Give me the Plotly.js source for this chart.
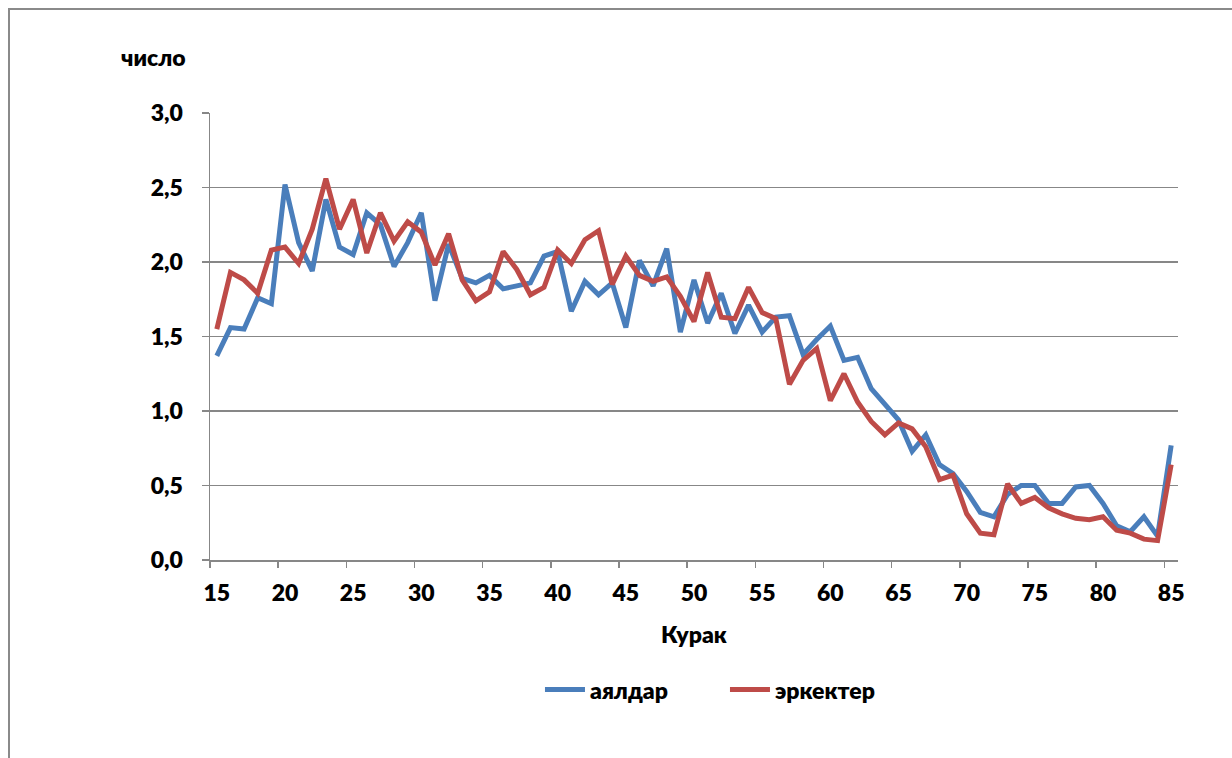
<!DOCTYPE html>
<html>
<head>
<meta charset="utf-8">
<script src="https://cdn.plot.ly/plotly-3.0.1.min.js"></script>
<style>html,body{margin:0;padding:0;background:#fff;}#chart{width:1232px;height:758px;}</style>
</head>
<body>
<div id="chart"></div>
<script>
const ages = [15,16,17,18,19,20,21,22,23,24,25,26,27,28,29,30,31,32,33,34,35,36,37,38,39,40,41,42,43,44,45,46,47,48,49,50,51,52,53,54,55,56,57,58,59,60,61,62,63,64,65,66,67,68,69,70,71,72,73,74,75,76,77,78,79,80,81,82,83,84,85];
const women = [1.37,1.56,1.55,1.76,1.72,2.52,2.13,1.94,2.42,2.10,2.05,2.33,2.25,1.97,2.13,2.33,1.74,2.12,1.89,1.86,1.91,1.82,1.84,1.86,2.04,2.07,1.67,1.87,1.78,1.86,1.56,2.01,1.84,2.09,1.53,1.88,1.59,1.79,1.52,1.71,1.53,1.63,1.64,1.38,1.48,1.57,1.34,1.36,1.15,1.04,0.94,0.73,0.84,0.64,0.58,0.46,0.32,0.29,0.44,0.50,0.50,0.38,0.38,0.49,0.50,0.38,0.23,0.19,0.29,0.16,0.77];
const men = [1.55,1.93,1.88,1.79,2.08,2.10,1.99,2.22,2.56,2.22,2.42,2.06,2.33,2.14,2.27,2.20,1.98,2.19,1.88,1.74,1.80,2.07,1.95,1.78,1.83,2.08,1.99,2.15,2.21,1.85,2.04,1.91,1.87,1.90,1.77,1.60,1.93,1.63,1.62,1.83,1.66,1.62,1.18,1.34,1.42,1.07,1.25,1.06,0.93,0.84,0.92,0.88,0.76,0.54,0.57,0.31,0.18,0.17,0.51,0.38,0.42,0.35,0.31,0.28,0.27,0.29,0.20,0.18,0.14,0.13,0.64];
const xTickVals = [15,20,25,30,35,40,45,50,55,60,65,70,75,80,85];
const xTickMarks = [14.5,19.5,24.5,29.5,34.5,39.5,44.5,49.5,54.5,59.5,64.5,69.5,74.5,79.5,84.5];
const seriesNames = ['аялдар','эркектер'];
const yTitle = 'число';
const xTitle = 'Курак';

const F = 'Lato, "Open Sans", "Liberation Sans", sans-serif';
const FS = 23;
const W = 800;
const grid = '#878787';

const traces = [
  {x: ages, y: women, name: seriesNames[0], type: 'scatter', mode: 'lines',
   line: {color: '#4A7EBB', width: 5}},
  {x: ages, y: men, name: seriesNames[1], type: 'scatter', mode: 'lines',
   line: {color: '#BE4B48', width: 5}},
  {x: [xTickMarks[0]], y: [0], xaxis: 'x2', yaxis: 'y', mode: 'markers',
   marker: {opacity: 0}, showlegend: false, hoverinfo: 'skip'}
];

const layout = {
  width: 1232, height: 758,
  margin: {l: 210, r: 54, t: 113, b: 198},
  paper_bgcolor: '#fff', plot_bgcolor: '#fff',
  separators: ', ',
  font: {family: F, size: FS, color: '#000', weight: W},
  showlegend: true,
  legend: {orientation: 'h', x: 0.532, xanchor: 'center', y: -0.29, yanchor: 'middle',
           font: {family: F, size: FS, weight: W, color: '#000'}, itemwidth: 40, entrywidth: 130},
  xaxis: {range: [14.5, 85.5], tickvals: xTickVals, ticktext: xTickVals.map(String),
          ticks: 'outside', ticklen: 12, tickcolor: 'rgba(0,0,0,0)',
          showgrid: false, zeroline: false, showline: true, linecolor: grid, linewidth: 1.5,
          tickfont: {family: F, size: FS, weight: W},
          title: {text: xTitle, font: {family: F, size: FS, weight: W}, standoff: 22}},
  xaxis2: {range: [14.5, 85.5], overlaying: 'x', side: 'bottom', tickvals: xTickMarks,
           showticklabels: false, ticks: 'outside', ticklen: 7, tickcolor: grid, tickwidth: 1.5,
           showgrid: false, zeroline: false, showline: false},
  yaxis: {range: [0, 3], dtick: 0.5, tick0: 0, tickformat: '.1f',
          ticks: 'outside', ticklen: 7, tickcolor: grid, tickwidth: 1.5, ticklabelstandoff: 14,
          showgrid: true, gridcolor: grid, gridwidth: 1.5, zeroline: false,
          showline: true, linecolor: grid, linewidth: 1.5,
          tickfont: {family: F, size: FS, weight: W}},
  annotations: [
    {text: yTitle, xref: 'paper', yref: 'paper', x: (153 - 210) / 968, y: (560 - 57) / 447,
     xanchor: 'center', yanchor: 'middle', showarrow: false,
     font: {family: F, size: FS, weight: W, color: '#000'}}
  ],
  shapes: [
    {type: 'rect', xref: 'paper', yref: 'paper', x0: (9 - 210) / 968, x1: 1.2, y0: -1, y1: (560 - 9) / 447,
     line: {color: '#8a8a8a', width: 2}, fillcolor: 'rgba(0,0,0,0)', layer: 'below'}
  ]
};

Plotly.newPlot('chart', traces, layout, {displayModeBar: false, staticPlot: true});
</script>
</body>
</html>
